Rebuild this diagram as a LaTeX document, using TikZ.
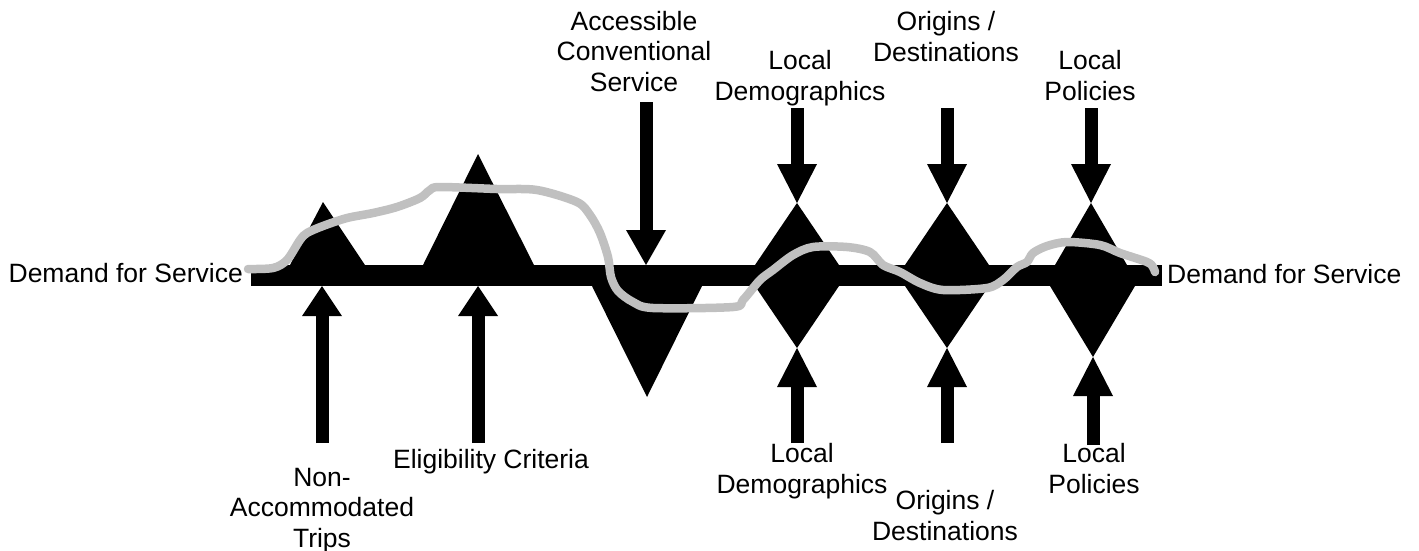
\documentclass[tikz,border=0pt]{standalone}
\usepackage{fontspec}
\setmainfont{Liberation Sans}
\usetikzlibrary{arrows.meta}
\definecolor{traceGray}{RGB}{192,192,192}

\begin{document}
\begin{tikzpicture}[x=1pt,y=-1pt,
    lbl/.style={align=center,inner sep=0pt,anchor=base,font=\fontsize{26.5}{30.5}\selectfont},
    flow/.style={line width=13pt,-{Triangle[width=40pt,length=#1,line width=0pt]}},
    flow/.default=36pt,
    trace/.style={draw=traceGray,line width=8.5pt,line cap=round,line join=round}]
  \useasboundingbox (0,0) rectangle (1419,550);
  % main stream and its bumps
  \fill (251,265) rectangle (1162,286);
  \fill (290,265) -- (323,202) -- (365,265) -- cycle;
  \fill (423,265) -- (478,154) -- (534,265) -- cycle;
  \fill (592,286) -- (647,397) -- (702,286) -- cycle;
  \foreach \c in {797,947}
    \fill (\c-42,265) -- (\c,203) -- (\c+42,265) -- (\c+42,286) -- (\c,348) -- (\c-42,286) -- cycle;
  \fill (1055,265) -- (1091,203) -- (1127,265) -- (1135,286) -- (1093,357) -- (1050,286) -- cycle;
  % labels
  \node[lbl,anchor=base east] (dfsL) at (243,282) {Demand for Service};
  \node[lbl,anchor=base west] (dfsR) at (1167,283) {Demand for Service};
  \node[lbl] (acs) at (634,91) {Accessible\\Conventional\\Service};
  \node[lbl] (ldT) at (800,100) {Local\\Demographics};
  \node[lbl] (odT) at (946,61) {Origins /\\Destinations};
  \node[lbl] (lpT) at (1090,100) {Local\\Policies};
  \node[lbl] (nat) at (322,547) {Non-\\Accommodated\\Trips};
  \node[lbl] (elig) at (491,468) {Eligibility Criteria};
  \node[lbl] (ldB) at (802,493) {Local\\Demographics};
  \node[lbl] (odB) at (945,540) {Origins /\\Destinations};
  \node[lbl] (lpB) at (1094,493) {Local\\Policies};
  % influences
  \foreach \n/\x/\a/\b/\l in {acs/646/102/265/35pt, ldT/797/108/203/39pt, odT/947/108/203/39pt,
      lpT/1091/108/203/39pt, nat/322/443/286/30pt, elig/478/443/286/30pt,
      ldB/797/443/348/39pt, odB/947/443/348/39pt, lpB/1093/445/357/39pt} {
    \coordinate (\n-tail) at (\x,\a);
    \coordinate (\n-head) at (\x,\b);
    \draw[flow=\l] (\n-tail) -- (\n-head);
  }
  % demand trace
  \draw[trace] plot[smooth,tension=.5] coordinates {(248,269) (273,268) (287,260) (300,240) (307,233)
    (323,226) (347,218) (373,213) (397,207) (420,198) (430,190) (440,187) (497,189) (537,190)
    (577,202) (590,215) (600,233) (608,257) (611,277) (618,291) (633,302) (653,308) (733,307)
    (743,300) (760,280) (773,270) (793,255) (813,247) (847,247) (870,252) (883,265) (900,272)
    (920,283) (943,290) (987,288) (1003,280) (1017,267) (1027,262) (1033,253) (1047,246)
    (1067,242) (1100,245) (1120,253) (1147,262) (1153,267) (1155,272)};
\end{tikzpicture}
\end{document}
